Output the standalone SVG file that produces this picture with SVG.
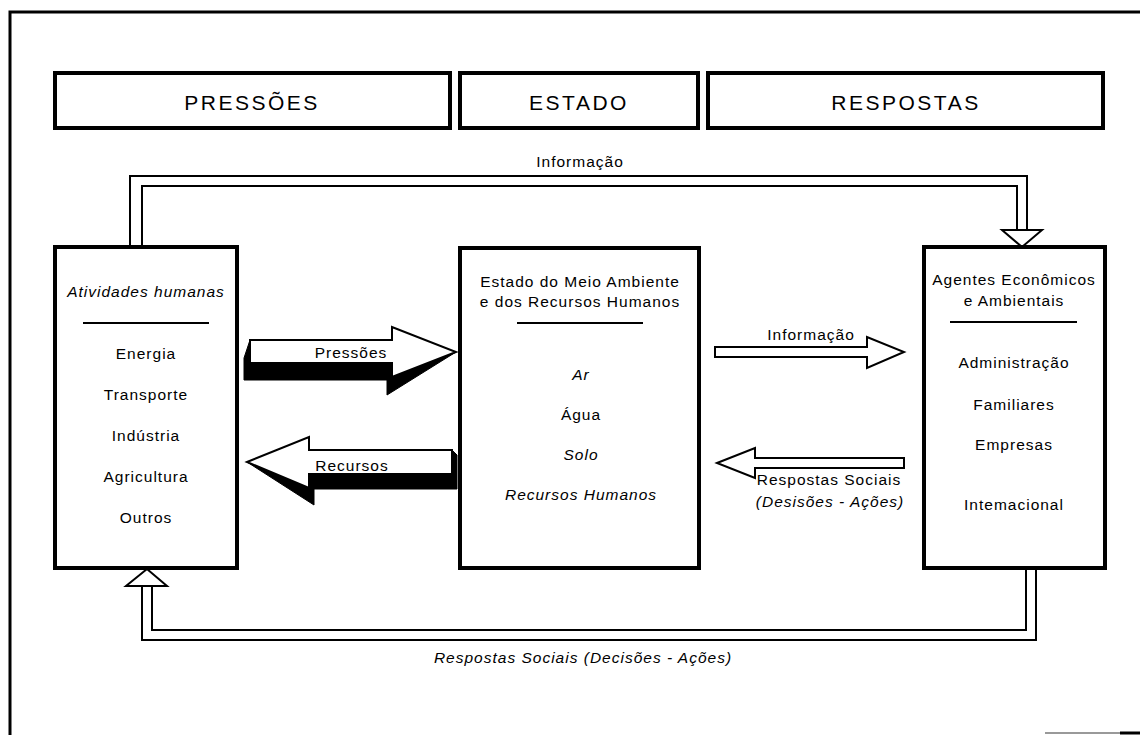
<svg xmlns="http://www.w3.org/2000/svg" width="1140" height="735" viewBox="0 0 1140 735">
  <style>
    .frame { fill: none; stroke: #000; stroke-width: 3; }
    .hdr { fill: #fff; stroke: #000; stroke-width: 4; }
    .hdr-txt { font-family: "Liberation Sans", Arial, sans-serif; font-size: 21px; letter-spacing: 2.5px; text-anchor: middle; fill: #000; }
    .box { fill: #fff; stroke: #000; stroke-width: 4; }
    .sep { stroke: #000; stroke-width: 2; }
    .t { font-family: "Liberation Sans", Arial, sans-serif; font-size: 15.5px; letter-spacing: 1px; text-anchor: middle; fill: #000; }
    .i { font-style: italic; }
    .pipe { fill: none; stroke: #000; stroke-width: 2; }
    .head { fill: #fff; stroke: #000; stroke-width: 2; stroke-linejoin: miter; }
    .shadow { fill: #000; stroke: #000; stroke-width: 1; }
  </style>

  <!-- page frame -->
  <path class="frame" d="M10,735 L10,12 L1140,12"/>
  <line x1="1045" y1="733" x2="1120" y2="733" stroke="#999" stroke-width="2"/>
  <line x1="1120" y1="733" x2="1140" y2="733" stroke="#000" stroke-width="3"/>

  <!-- column headers -->
  <g id="hdr-pressoes">
    <rect class="hdr" x="55" y="73" width="395" height="55"/>
    <text class="hdr-txt" x="252" y="110">PRESSÕES</text>
  </g>
  <g id="hdr-estado">
    <rect class="hdr" x="460" y="73" width="238" height="55"/>
    <text class="hdr-txt" x="579" y="110">ESTADO</text>
  </g>
  <g id="hdr-respostas">
    <rect class="hdr" x="708" y="73" width="395" height="55"/>
    <text class="hdr-txt" x="906" y="110">RESPOSTAS</text>
  </g>

  <!-- connectors -->
  <g id="connectors">
    <!-- top loop: information to the agents -->
    <path class="pipe" d="M130,247 L130,176 L1027,176 L1027,230"/>
    <path class="pipe" d="M142,247 L142,186 L1017,186 L1017,230"/>
    <polygon class="head" points="1002,230 1042,230 1022,247"/>
    <text class="t" x="580" y="167">Informação</text>

    <!-- bottom loop: social responses back to activities -->
    <path class="pipe" d="M1036,570 L1036,640 L142,640 L142,586"/>
    <path class="pipe" d="M1026,570 L1026,630 L152,630 L152,586"/>
    <polygon class="head" points="126,586 167,586 147,569"/>
    <text class="t i" x="583" y="663">Respostas Sociais (Decisões - Ações)</text>

    <!-- Pressões: block arrow with drop shadow -->
    <polygon class="shadow" points="250,340 244,358 244,380 387,380 387,395 456,352"/>
    <polygon class="head" points="250,340 392,340 392,327 456,352 392,377 392,363 250,363"/>
    <text class="t" x="351" y="358">Pressões</text>

    <!-- Recursos: block arrow with drop shadow -->
    <polygon class="shadow" points="247,462 314,505 314,489 457,489 457,455 452,450"/>
    <polygon class="head" points="247,462 309,437 309,450 452,450 452,474 309,474 309,488"/>
    <text class="t" x="352" y="471">Recursos</text>

    <!-- Informação: hollow arrow to the agents -->
    <polygon class="head" points="715,347 867,347 867,337 904,352 867,368 867,357 715,357"/>
    <text class="t" x="811" y="340">Informação</text>

    <!-- Respostas Sociais: hollow arrow back to the state -->
    <polygon class="head" points="717,463 755,448 755,458 904,458 904,468 755,468 755,478"/>
    <text class="t" x="829" y="485">Respostas Sociais</text>
    <text class="t i" x="830" y="507">(Desisões - Ações)</text>
  </g>

  <!-- node: human activities -->
  <g id="node-atividades">
    <rect class="box" x="55" y="247" width="182" height="321"/>
    <text class="t i" x="146" y="297">Atividades humanas</text>
    <line class="sep" x1="83" y1="323" x2="209" y2="323"/>
    <text class="t" x="146" y="359">Energia</text>
    <text class="t" x="146" y="400">Transporte</text>
    <text class="t" x="146" y="441">Indústria</text>
    <text class="t" x="146" y="482">Agricultura</text>
    <text class="t" x="146" y="523">Outros</text>
  </g>

  <!-- node: state of the environment -->
  <g id="node-estado">
    <rect class="box" x="460" y="248" width="239" height="320"/>
    <text class="t" x="580" y="287">Estado do Meio Ambiente</text>
    <text class="t" x="580" y="307">e dos Recursos Humanos</text>
    <line class="sep" x1="517" y1="323" x2="643" y2="323"/>
    <text class="t i" x="581" y="380">Ar</text>
    <text class="t" x="581" y="420">Água</text>
    <text class="t i" x="581" y="460">Solo</text>
    <text class="t i" x="581" y="500">Recursos Humanos</text>
  </g>

  <!-- node: economic and environmental agents -->
  <g id="node-agentes">
    <rect class="box" x="924" y="247" width="181" height="321"/>
    <text class="t" x="1014" y="285">Agentes Econômicos</text>
    <text class="t" x="1014" y="306">e Ambientais</text>
    <line class="sep" x1="950" y1="322" x2="1077" y2="322"/>
    <text class="t" x="1014" y="368">Administração</text>
    <text class="t" x="1014" y="410">Familiares</text>
    <text class="t" x="1014" y="450">Empresas</text>
    <text class="t" x="1014" y="510">Intemacional</text>
  </g>
</svg>
